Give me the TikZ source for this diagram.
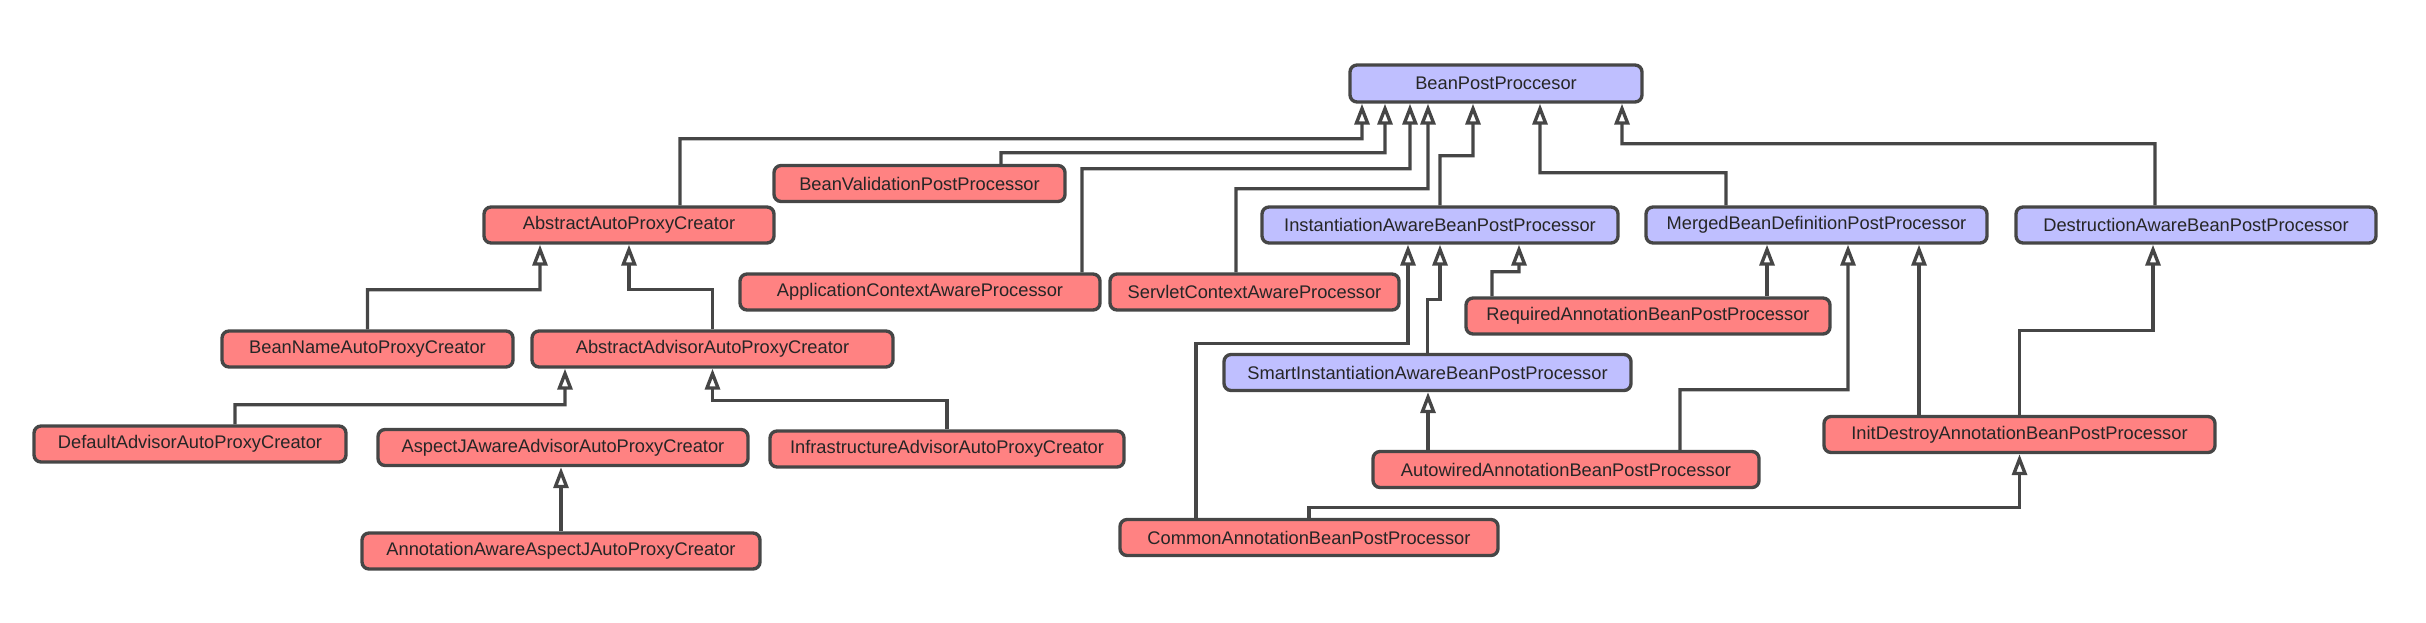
\documentclass[tikz,border=0pt]{standalone}
\usepackage{fontspec}
\setmainfont{Liberation Sans}
\usepackage{xcolor}
\usepackage{tikz}
\usetikzlibrary{arrows.meta}

\definecolor{ifacefill}{RGB}{191,191,255}
\definecolor{implfill}{RGB}{255,130,130}
\definecolor{edgegray}{RGB}{70,70,70}

\begin{document}
\begin{tikzpicture}[
    every node/.style={font=\fontsize{10.4}{12}\selectfont, text=black!85},
    iface/.style={rectangle, draw=edgegray, fill=ifacefill, line width=1.9pt, minimum height=0.72cm, rounded corners=4pt, inner sep=0pt},
    impl/.style={rectangle, draw=edgegray, fill=implfill, line width=1.9pt, minimum height=0.72cm, rounded corners=4pt, inner sep=0pt},
    arrow/.style={-{Triangle[open, length=0.42cm, width=0.30cm]}, line width=1.9pt, draw=edgegray},
]
\useasboundingbox (0,0) rectangle (48.52,-12.44);

% --- Root interface ---
\node[iface, minimum width=5.84cm, minimum height=0.74cm] (bpp) at (29.92,-1.67) {BeanPostProccesor};

% --- Sub-interfaces ---
\node[iface, minimum width=7.12cm] (iabpp) at (28.80,-4.50) {InstantiationAwareBeanPostProcessor};
\node[iface, minimum width=6.82cm] (mbdpp) at (36.33,-4.50) {MergedBeanDefinitionPostProcessor};
\node[iface, minimum width=7.20cm] (dabpp) at (43.92,-4.50) {DestructionAwareBeanPostProcessor};
\node[iface, minimum width=8.14cm] (siabpp) at (28.55,-7.45) {SmartInstantiationAwareBeanPostProcessor};

% --- Auto proxy creators ---
\node[impl, minimum width=5.80cm] (aapc) at (12.58,-4.50) {AbstractAutoProxyCreator};
\node[impl, minimum width=5.82cm] (bnapc) at (7.35,-6.98) {BeanNameAutoProxyCreator};
\node[impl, minimum width=7.22cm] (abaapc) at (14.25,-6.98) {AbstractAdvisorAutoProxyCreator};
\node[impl, minimum width=6.24cm] (daapc) at (3.80,-8.88) {DefaultAdvisorAutoProxyCreator};
\node[impl, minimum width=7.40cm] (ajaapc) at (11.26,-8.95) {AspectJAwareAdvisorAutoProxyCreator};
\node[impl, minimum width=7.08cm] (iaapc) at (18.94,-8.98) {InfrastructureAdvisorAutoProxyCreator};
\node[impl, minimum width=7.96cm] (aaajapc) at (11.22,-11.02) {AnnotationAwareAspectJAutoProxyCreator};

% --- Other processors ---
\node[impl, minimum width=5.82cm] (bvpp) at (18.39,-3.67) {BeanValidationPostProcessor};
\node[impl, minimum width=7.20cm] (acap) at (18.40,-5.84) {ApplicationContextAwareProcessor};
\node[impl, minimum width=5.78cm] (scap) at (25.09,-5.84) {ServletContextAwareProcessor};
\node[impl, minimum width=7.28cm] (rabpp) at (32.96,-6.32) {RequiredAnnotationBeanPostProcessor};
\node[impl, minimum width=7.82cm] (idabpp) at (40.39,-8.69) {InitDestroyAnnotationBeanPostProcessor};
\node[impl, minimum width=7.72cm] (aabpp) at (31.32,-9.39) {AutowiredAnnotationBeanPostProcessor};
\node[impl, minimum width=7.56cm] (cabpp) at (26.18,-10.75) {CommonAnnotationBeanPostProcessor};

% --- Arrows: into BeanPostProccesor ---
\draw[arrow] ([xshift=1.02cm]aapc.north) |- ([shift={(-2.68,-0.70)}]bpp.south) -- ([xshift=-2.68cm]bpp.south);
\draw[arrow] ([xshift=1.63cm]bvpp.north) |- ([shift={(-2.22,-0.98)}]bpp.south) -- ([xshift=-2.22cm]bpp.south);
\draw[arrow] ([xshift=3.24cm]acap.north) |- ([shift={(-1.72,-1.30)}]bpp.south) -- ([xshift=-1.72cm]bpp.south);
\draw[arrow] ([xshift=-0.37cm]scap.north) |- ([shift={(-1.36,-1.70)}]bpp.south) -- ([xshift=-1.36cm]bpp.south);
\draw[arrow] (iabpp.north) |- ([shift={(-0.46,-1.04)}]bpp.south) -- ([xshift=-0.46cm]bpp.south);
\draw[arrow] ([xshift=-1.81cm]mbdpp.north) |- ([shift={(0.88,-1.38)}]bpp.south) -- ([xshift=0.88cm]bpp.south);
\draw[arrow] ([xshift=-0.82cm]dabpp.north) |- ([shift={(2.52,-0.80)}]bpp.south) -- ([xshift=2.52cm]bpp.south);

% --- Arrows: auto proxy creator tree ---
\draw[arrow] (bnapc.north) |- ([shift={(-1.78,-0.90)}]aapc.south) -- ([xshift=-1.78cm]aapc.south);
\draw[arrow] (abaapc.north) |- ([shift={(0,-0.90)}]aapc.south) -- (aapc.south);
\draw[arrow] ([xshift=0.90cm]daapc.north) |- ([shift={(-2.95,-0.72)}]abaapc.south) -- ([xshift=-2.95cm]abaapc.south);
\draw[arrow] (iaapc.north) |- ([shift={(0,-0.64)}]abaapc.south) -- (abaapc.south);
\draw[arrow] (aaajapc.north) -- (aaajapc.north |- ajaapc.south);

% --- Arrows: into InstantiationAwareBeanPostProcessor ---
\draw[arrow] ([xshift=-2.26cm]cabpp.north) |- ([shift={(-0.64,-1.98)}]iabpp.south) -- ([xshift=-0.64cm]iabpp.south);
\draw[arrow] (siabpp.north) |- ([shift={(0,-1.10)}]iabpp.south) -- (iabpp.south);
\draw[arrow] ([xshift=-3.12cm]rabpp.north) |- ([shift={(1.58,-0.54)}]iabpp.south) -- ([xshift=1.58cm]iabpp.south);
\draw[arrow] ([xshift=-2.76cm]aabpp.north) -- ([xshift=-2.76cm]aabpp.north |- siabpp.south);

% --- Arrows: into MergedBeanDefinitionPostProcessor ---
\draw[arrow] ([xshift=2.38cm]rabpp.north) -- ([xshift=2.38cm]rabpp.north |- mbdpp.south);
\draw[arrow] ([xshift=2.28cm]aabpp.north) |- ([shift={(0.63,-2.90)}]mbdpp.south) -- ([xshift=0.63cm]mbdpp.south);
\draw[arrow] ([xshift=-2.01cm]idabpp.north) -- ([xshift=-2.01cm]idabpp.north |- mbdpp.south);

% --- Arrows: destruction side ---
\draw[arrow] (idabpp.north) |- ([shift={(-0.86,-1.72)}]dabpp.south) -- ([xshift=-0.86cm]dabpp.south);
\draw[arrow] (cabpp.north) |- ([shift={(0,-1.06)}]idabpp.south) -- (idabpp.south);

\end{tikzpicture}
\end{document}
